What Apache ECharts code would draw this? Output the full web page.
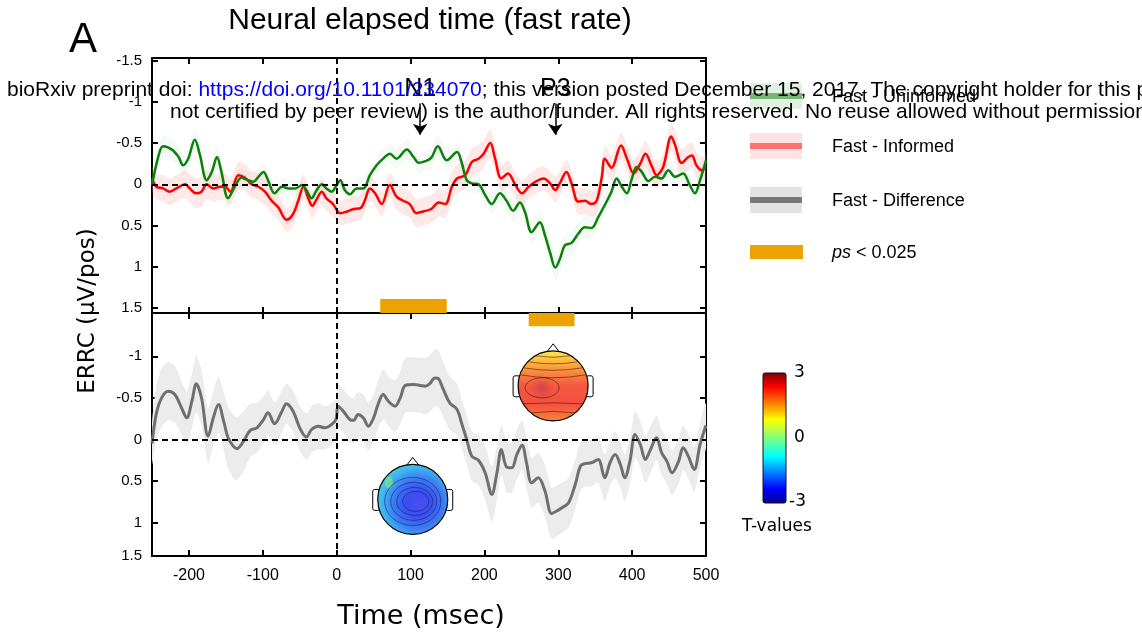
<!DOCTYPE html>
<html><head><meta charset="utf-8">
<script src="https://cdn.jsdelivr.net/npm/echarts@6/dist/echarts.min.js"></script>
<style>html,body{margin:0;padding:0;background:#fff}#c{width:1142px;height:637px}</style>
</head><body><div id="c"></div>
<script>
// ---------------- DATA ----------------
const xTicks = [-200, -100, 0, 100, 200, 300, 400, 500];
const yTicksTop = [-1.5, -1, -0.5, 0, 0.5, 1, 1.5];
const yTicksBottom = [-1, -0.5, 0, 0.5, 1, 1.4];
// [time (ms), ERRC (µV/pos), band half-width]
const uninformed = [[-250,0.01,0.1],[-241,-0.35,0.12],[-235,-0.46,0.13],[-223,-0.42,0.13],[-214,-0.33,0.13],[-208,-0.23,0.12],[-201,-0.31,0.13],[-192,-0.54,0.15],[-185,-0.35,0.14],[-176,-0.05,0.13],[-169,-0.15,0.13],[-162,-0.33,0.14],[-156,-0.15,0.13],[-147,0.17,0.12],[-138,0.03,0.12],[-129,-0.08,0.12],[-120,-0.05,0.11],[-113,-0.03,0.11],[-106,-0.09,0.11],[-99,-0.15,0.11],[-93,-0.05,0.11],[-84,0.11,0.11],[-74,0.03,0.1],[-65,0.05,0.1],[-56,0.05,0.1],[-47,0.01,0.1],[-41,0.07,0.1],[-34,0.17,0.1],[-27,0.07,0.1],[-20,0,0.1],[-14,0.05,0.1],[-7,0.09,0.1],[0,0.01,0.1],[5,-0.05,0.1],[11,0.07,0.1],[18,0.12,0.1],[27,0.05,0.1],[36,0.05,0.1],[45,-0.11,0.11],[54,-0.23,0.11],[63,-0.31,0.12],[72,-0.37,0.12],[81,-0.31,0.12],[95,-0.42,0.13],[104,-0.33,0.12],[111,-0.26,0.12],[120,-0.28,0.12],[128,-0.32,0.12],[137,-0.46,0.13],[149,-0.29,0.12],[163,-0.39,0.12],[169,-0.27,0.12],[176,-0.05,0.12],[183,-0.01,0.12],[192,0,0.12],[201,0.13,0.12],[210,0.24,0.12],[221,0.11,0.12],[230,0.2,0.12],[239,0.32,0.13],[248,0.22,0.13],[255,0.34,0.13],[264,0.58,0.14],[275,0.46,0.14],[282,0.62,0.14],[289,0.83,0.15],[296,1.01,0.15],[302,0.91,0.15],[309,0.74,0.14],[318,0.71,0.14],[327,0.6,0.13],[336,0.52,0.13],[345,0.53,0.13],[354,0.4,0.13],[366,0.2,0.12],[372,0.09,0.12],[379,-0.07,0.12],[386,0.03,0.12],[393,0.11,0.12],[399,-0.05,0.12],[406,-0.21,0.12],[413,-0.15,0.12],[422,-0.04,0.12],[431,-0.09,0.12],[440,-0.07,0.12],[449,-0.17,0.12],[458,-0.09,0.12],[469,-0.13,0.12],[478,0.01,0.12],[485,0.11,0.12],[492,-0.05,0.12],[500,-0.29,0.13]];
const informed = [[-250,-0.07,0.15],[-244,0.03,0.15],[-235,0.05,0.16],[-226,0.09,0.16],[-217,0.05,0.16],[-205,0,0.17],[-199,0.05,0.17],[-190,0.11,0.18],[-183,0.09,0.18],[-176,0,0.17],[-167,0.05,0.16],[-158,0.03,0.16],[-151,0.03,0.16],[-144,0.09,0.16],[-133,-0.11,0.16],[-124,-0.08,0.16],[-115,0,0.16],[-106,0.03,0.16],[-97,0.09,0.16],[-88,0.2,0.16],[-79,0.28,0.15],[-68,0.43,0.15],[-59,0.36,0.15],[-52,0.2,0.15],[-45,0.03,0.15],[-38,0.18,0.15],[-33,0.26,0.15],[-27,0.18,0.15],[-20,0.09,0.15],[-14,0.17,0.15],[-5,0.24,0.15],[5,0.35,0.15],[14,0.33,0.15],[23,0.3,0.15],[32,0.29,0.15],[38,0.2,0.15],[45,0.05,0.15],[52,0.11,0.15],[61,0.24,0.15],[72,0.01,0.15],[81,0.15,0.16],[90,0.2,0.16],[99,0.24,0.16],[108,0.35,0.17],[117,0.33,0.17],[128,0.3,0.17],[138,0.22,0.17],[147,0.24,0.17],[156,0.03,0.17],[163,-0.07,0.17],[174,-0.11,0.17],[183,-0.27,0.17],[192,-0.31,0.17],[199,-0.37,0.17],[208,-0.5,0.17],[214,-0.33,0.16],[223,-0.07,0.16],[232,-0.13,0.16],[242,0.01,0.15],[251,0.11,0.15],[260,0.03,0.15],[269,-0.03,0.15],[280,-0.07,0.15],[289,-0.01,0.15],[296,0.07,0.15],[302,-0.01,0.15],[311,-0.15,0.15],[318,-0.01,0.15],[327,0.21,0.16],[336,0.2,0.16],[345,0.24,0.16],[352,0.2,0.16],[359,-0.09,0.16],[363,-0.31,0.16],[372,-0.2,0.16],[385,-0.47,0.16],[393,-0.31,0.16],[402,-0.13,0.16],[411,-0.25,0.16],[418,-0.37,0.16],[427,-0.21,0.16],[433,-0.11,0.16],[442,-0.21,0.16],[453,-0.58,0.17],[458,-0.48,0.17],[467,-0.26,0.16],[476,-0.33,0.16],[481,-0.35,0.16],[487,-0.23,0.16],[494,-0.17,0.16],[500,-0.21,0.16]];
const difference = [[-250,0.05,0.25],[-244,-0.32,0.32],[-237,-0.5,0.35],[-228,-0.58,0.35],[-219,-0.54,0.34],[-210,-0.38,0.32],[-203,-0.26,0.32],[-196,-0.46,0.33],[-190,-0.67,0.34],[-183,-0.5,0.34],[-174,-0.04,0.33],[-167,-0.26,0.33],[-160,-0.42,0.34],[-153,-0.22,0.35],[-147,-0.02,0.37],[-140,0.08,0.38],[-135,0.11,0.38],[-126,0.02,0.36],[-117,-0.11,0.32],[-108,-0.14,0.3],[-99,-0.24,0.28],[-93,-0.32,0.27],[-84,-0.19,0.26],[-74,-0.34,0.25],[-68,-0.43,0.24],[-59,-0.34,0.25],[-50,-0.14,0.27],[-41,-0.03,0.28],[-34,-0.12,0.28],[-25,-0.16,0.28],[-16,-0.14,0.26],[-7,-0.18,0.25],[-1,-0.24,0.25],[2,-0.4,0.26],[9,-0.34,0.26],[18,-0.24,0.27],[23,-0.23,0.27],[29,-0.3,0.27],[36,-0.26,0.28],[43,-0.16,0.29],[50,-0.26,0.29],[56,-0.42,0.29],[63,-0.54,0.3],[70,-0.46,0.3],[79,-0.4,0.31],[86,-0.5,0.32],[93,-0.65,0.33],[104,-0.66,0.33],[113,-0.65,0.33],[120,-0.64,0.34],[126,-0.67,0.34],[133,-0.74,0.34],[138,-0.73,0.34],[144,-0.61,0.33],[153,-0.44,0.32],[163,-0.36,0.31],[169,-0.2,0.3],[176,0,0.3],[183,0.2,0.3],[192,0.25,0.3],[201,0.4,0.32],[210,0.66,0.34],[217,0.4,0.32],[223,0.12,0.3],[230,0.33,0.3],[237,0.34,0.3],[244,0.18,0.3],[251,0.07,0.3],[257,0.28,0.3],[264,0.52,0.3],[273,0.46,0.3],[282,0.62,0.31],[291,0.89,0.31],[298,0.86,0.31],[305,0.82,0.3],[314,0.76,0.3],[323,0.54,0.3],[330,0.32,0.29],[336,0.29,0.28],[345,0.28,0.28],[354,0.24,0.28],[363,0.46,0.28],[370,0.28,0.28],[377,0.18,0.28],[384,0.3,0.28],[390,0.46,0.28],[397,0.26,0.28],[404,-0.06,0.28],[411,0.06,0.28],[418,0.24,0.28],[424,0.14,0.28],[433,-0.02,0.27],[440,0.16,0.27],[447,0.26,0.27],[454,0.4,0.27],[463,0.26,0.27],[469,0.1,0.27],[476,0.2,0.27],[484,0.36,0.27],[492,0.06,0.27],[500,-0.17,0.27]];
const sigTop = [59, 149];      // ms, p < 0.025 window (upper panel)
const sigBottom = [260, 322];  // ms, p < 0.025 window (lower panel)
const peaks = [{name: 'N1', t: 113}, {name: 'P3', t: 296}];
const seriesNames = ['Fast - Uninformed', 'Fast - Informed', 'Fast - Difference'];
const colorbarTicks = ['3', '0', '-3'];

// ---------------- CHART ----------------
const chart = echarts.init(document.getElementById('c'), null, {renderer: 'canvas'});
const SANS = 'Liberation Sans';
const DJ = 'DejaVu Sans';
const BLACK = '#000';

function xAxis(gridIndex, position, showLabel) {
  return {
    type: 'value', gridIndex, position, min: -250, max: 500,
    axisLine: {show: true, onZero: false, lineStyle: {color: BLACK, width: 2}},
    axisTick: {show: true, inside: true, length: 6, customValues: xTicks, lineStyle: {color: BLACK, width: 2}},
    axisLabel: {show: showLabel, customValues: xTicks, color: BLACK, fontSize: 16, fontFamily: SANS, margin: 12},
    splitLine: {show: false}
  };
}
function yAxis(gridIndex, position, min, max, ticks, showLabel) {
  return {
    type: 'value', gridIndex, position, min, max, inverse: true,
    axisLine: {show: true, onZero: false, lineStyle: {color: BLACK, width: 2}},
    axisTick: {show: true, inside: true, length: 6, customValues: ticks, lineStyle: {color: BLACK, width: 2}},
    axisLabel: {show: showLabel, customValues: ticks, color: BLACK, fontSize: 15, fontFamily: SANS, margin: 10,
      formatter: v => (Math.abs(v - 1.4) < 1e-6 ? '1.5' : String(v))},
    splitLine: {show: false}
  };
}
function bandSeries(arr, color, xi, yi) {
  return {
    type: 'custom', xAxisIndex: xi, yAxisIndex: yi, clip: true, silent: true, z: 1,
    data: [[arr[0][0], arr[0][1]]],
    renderItem: function (params, api) {
      const up = arr.map(d => api.coord([d[0], d[1] - d[2]]));
      const lo = arr.slice().reverse().map(d => api.coord([d[0], d[1] + d[2]]));
      return {type: 'polygon', shape: {points: up.concat(lo), smooth: 0.25}, style: {fill: color}};
    }
  };
}
function lineSeries(name, arr, color, width, xi, yi, extra) {
  return Object.assign({
    name, type: 'line', xAxisIndex: xi, yAxisIndex: yi, z: 3,
    data: arr.map(d => [d[0], d[1]]),
    showSymbol: false, smooth: 0.35, silent: true,
    lineStyle: {color, width}, itemStyle: {color}
  }, extra || {});
}
const zeroLines = {
  silent: true, symbol: 'none', label: {show: false},
  lineStyle: {color: BLACK, type: [6, 4], width: 2},
  data: [{yAxis: 0}, {xAxis: 0}]
};

const option = {
  animation: false,
  backgroundColor: '#fff',
  grid: [
    {left: 152, top: 58, width: 554, height: 255},
    {left: 152, top: 313, width: 554, height: 243}
  ],
  xAxis: [xAxis(0, 'bottom', false), xAxis(0, 'top', false), xAxis(1, 'bottom', true), xAxis(1, 'top', false)],
  yAxis: [
    yAxis(0, 'left', -1.53, 1.56, yTicksTop, true), yAxis(0, 'right', -1.53, 1.56, yTicksTop, false),
    yAxis(1, 'left', -1.52, 1.4, yTicksBottom, true), yAxis(1, 'right', -1.52, 1.4, yTicksBottom, false)
  ],
  series: [
    bandSeries(informed, 'rgba(255,150,150,0.22)', 0, 0),
    bandSeries(uninformed, 'rgba(150,200,150,0.09)', 0, 0),
    bandSeries(difference, '#ececec', 2, 2),
    lineSeries(seriesNames[1], informed, '#ff0000', 2.5, 0, 0, {
      markLine: {
        silent: true, symbol: ['none', 'arrow'], symbolSize: 11,
        lineStyle: {color: BLACK, type: 'solid', width: 1.5},
        label: {show: true, position: 'start', formatter: '{b}', color: BLACK, fontSize: 25, fontFamily: SANS, distance: 2},
        data: peaks.map(p => [{coord: [p.t, -0.98], name: p.name}, {coord: [p.t, -0.6]}])
      },
      markArea: {
        silent: true, itemStyle: {color: '#eca200'},
        data: [[{coord: [sigTop[0], 1.39]}, {coord: [sigTop[1], 1.56]}]]
      }
    }),
    lineSeries(seriesNames[0], uninformed, '#0a820a', 2.5, 0, 0, {markLine: zeroLines}),
    lineSeries(seriesNames[2], difference, '#6f6f6f', 3, 2, 2, {
      markLine: zeroLines,
      markArea: {
        silent: true, itemStyle: {color: '#eca200'},
        data: [[{coord: [sigBottom[0], -1.52]}, {coord: [sigBottom[1], -1.36]}]]
      }
    })
  ]
};
chart.setOption(option);

// ---------------- DECORATIONS ----------------
function txt(x, y, text, size, family, opts) {
  return Object.assign({
    type: 'text', x, y, z: 50,
    style: Object.assign({text, fontSize: size, fontFamily: family, fill: BLACK,
      align: 'left', verticalAlign: 'middle', textAlign: 'left', textVerticalAlign: 'middle'}, (opts && opts.style) || {})
  }, (opts && opts.el) || {});
}
function chord(cx, cy, r, d, sag, style) {
  const w = Math.sqrt(r * r - d * d) - 0.5;
  return {type: 'bezierCurve', z: 43, style,
    shape: {x1: cx - w, y1: cy + d, x2: cx + w, y2: cy + d, cpx1: cx, cpy1: cy + d + sag}};
}
function headBase(cx, cy, r) {
  return [
    {type: 'rect', shape: {x: cx - r - 5, y: cy - 10, width: 7, height: 21, r: 2}, style: {fill: '#fff', stroke: BLACK, lineWidth: 1}, z: 40},
    {type: 'rect', shape: {x: cx + r - 2, y: cy - 10, width: 7, height: 21, r: 2}, style: {fill: '#fff', stroke: BLACK, lineWidth: 1}, z: 40},
    {type: 'polygon', shape: {points: [[cx - 7, cy - r + 2], [cx, cy - r - 7], [cx + 7, cy - r + 2]]}, style: {fill: '#fff', stroke: BLACK, lineWidth: 1}, z: 40}
  ];
}
function redHead(cx, cy, r) {
  const els = headBase(cx, cy, r);
  els.push({type: 'circle', shape: {cx, cy, r}, z: 41, style: {stroke: BLACK, lineWidth: 1.2,
    fill: {type: 'linear', x: 0, y: 0, x2: 0, y2: 1, colorStops: [
      {offset: 0, color: '#fff04a'}, {offset: 0.12, color: '#ffc23c'}, {offset: 0.3, color: '#fb8c3c'},
      {offset: 0.5, color: '#f4573f'}, {offset: 0.75, color: '#f4503e'}, {offset: 1, color: '#f8843a'}]}}});
  els.push({type: 'ellipse', shape: {cx: cx - 11, cy: cy + 2, rx: 20, ry: 13}, z: 42, style: {
    fill: {type: 'radial', x: 0.5, y: 0.5, r: 0.5, colorStops: [{offset: 0, color: 'rgba(200,65,80,0.85)'}, {offset: 1, color: 'rgba(230,70,70,0)'}]}}});
  const cs = {stroke: 'rgba(60,20,10,0.7)', lineWidth: 0.8, fill: null};
  [[-30, 3], [-24, 4], [-18, 5], [-11, 6], [18, -2], [27, -3]].forEach(function (p) {
    els.push(chord(cx, cy, r, p[0], p[1], cs));
  });
  els.push({type: 'ellipse', shape: {cx: cx - 11, cy: cy + 2, rx: 17, ry: 10}, style: cs, z: 43});
  return els;
}
function blueHead(cx, cy, r) {
  const els = headBase(cx, cy, r);
  els.push({type: 'circle', shape: {cx, cy, r}, z: 41, style: {stroke: BLACK, lineWidth: 1.2,
    fill: {type: 'radial', x: 0.58, y: 0.56, r: 0.62, colorStops: [
      {offset: 0, color: '#4a4cf0'}, {offset: 0.3, color: '#3a4ff0'}, {offset: 0.55, color: '#3b78f2'},
      {offset: 0.8, color: '#3fb0f0'}, {offset: 1, color: '#46d6e4'}]}}});
  els.push({type: 'ellipse', shape: {cx: cx - 24, cy: cy - 17, rx: 4, ry: 6}, z: 42, style: {fill: 'rgba(120,220,150,0.8)'}});
  const cs = {stroke: 'rgba(20,30,110,0.7)', lineWidth: 0.8, fill: null};
  [[13, 10], [18, 14], [23, 19], [28, 24]].forEach(function (e, i) {
    els.push({type: 'ellipse', shape: {cx: cx + 3 - i, cy: cy + 2, rx: e[0], ry: e[1]}, style: cs, z: 43});
  });
  return els;
}

const redC = chart.convertToPixel({gridIndex: 1}, [293, -0.645]);
const blueC = chart.convertToPixel({gridIndex: 1}, [103, 0.72]);

const jet = {type: 'linear', x: 0, y: 0, x2: 0, y2: 1, colorStops: [
  {offset: 0, color: '#800000'}, {offset: 0.11, color: '#ff0000'}, {offset: 0.36, color: '#ffff00'},
  {offset: 0.5, color: '#80ff80'}, {offset: 0.64, color: '#00ffff'}, {offset: 0.89, color: '#0000ff'}, {offset: 1, color: '#00008f'}]};

const legendRows = [
  {y: 96, band: '#e2f1e2', line: '#72b872', label: seriesNames[0]},
  {y: 146, band: '#ffe2e2', line: '#ff7272', label: seriesNames[1]},
  {y: 200, band: '#e3e3e3', line: '#777777', label: seriesNames[2]}
];
const graphics = [];
legendRows.forEach(function (row) {
  graphics.push({type: 'rect', shape: {x: 750, y: row.y - 13, width: 52, height: 26}, style: {fill: row.band}, z: 20});
  graphics.push({type: 'rect', shape: {x: 750, y: row.y - 3, width: 52, height: 6}, style: {fill: row.line}, z: 21});
  graphics.push(txt(832, row.y + 1, row.label, 18, SANS));
});
graphics.push({type: 'rect', shape: {x: 750, y: 245, width: 53, height: 14}, style: {fill: '#eca200'}, z: 20});
graphics.push({type: 'text', x: 832, y: 253, z: 50, style: {
  text: '{i|ps} < 0.025', fontSize: 18, fontFamily: SANS, fill: BLACK, verticalAlign: 'middle', textVerticalAlign: 'middle',
  rich: {i: {fontStyle: 'italic', fontSize: 18, fontFamily: SANS, fill: BLACK}}}});

// colour bar
graphics.push({type: 'rect', shape: {x: 763, y: 373, width: 23, height: 130, r: 2}, style: {fill: jet, stroke: '#111', lineWidth: 1}, z: 20});
graphics.push(txt(794, 373, colorbarTicks[0], 17, DJ));
graphics.push(txt(794, 438, colorbarTicks[1], 17, DJ));
graphics.push(txt(789, 502, colorbarTicks[2], 17, DJ));
graphics.push(txt(777, 527, 'T-values', 17, DJ, {style: {align: 'center', textAlign: 'center'}}));

// titles
graphics.push(txt(430, 21, 'Neural elapsed time (fast rate)', 30, SANS, {style: {align: 'center', textAlign: 'center'}}));
graphics.push(txt(83, 40, 'A', 42, SANS, {style: {align: 'center', textAlign: 'center'}}));
graphics.push(txt(421, 617, 'Time (msec)', 27, DJ, {style: {align: 'center', textAlign: 'center'}}));
graphics.push(txt(88, 311, 'ERRC (μV/pos)', 23, DJ, {style: {align: 'center', textAlign: 'center'}, el: {rotation: Math.PI / 2}}));

// topoplots
redHead(redC[0], redC[1], 35).concat(blueHead(blueC[0], blueC[1], 35)).forEach(e => graphics.push(e));

// preprint banner
graphics.push({type: 'text', x: 7, y: 90, z: 100, style: {
  text: '{a|bioRxiv preprint doi: }{b|https://doi.org/10.1101/234070}{a|; this version posted December 15, 2017. The copyright holder for this preprint (which was}',
  fontSize: 21, fontFamily: SANS, verticalAlign: 'middle', textVerticalAlign: 'middle',
  rich: {a: {fill: BLACK, fontSize: 21, fontFamily: SANS}, b: {fill: '#0000ff', fontSize: 21, fontFamily: SANS}}}});
graphics.push({type: 'text', x: 170, y: 112, z: 100, style: {
  text: 'not certified by peer review) is the author/funder. All rights reserved. No reuse allowed without permission.',
  fontSize: 21, fontFamily: SANS, fill: BLACK, verticalAlign: 'middle', textVerticalAlign: 'middle'}});

chart.setOption({graphic: graphics});
</script>
</body></html>
